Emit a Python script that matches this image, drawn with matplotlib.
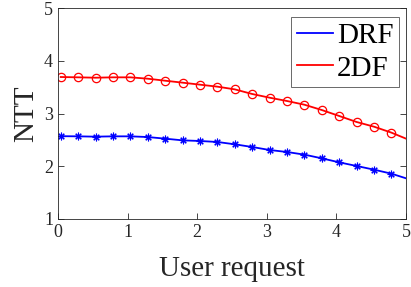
import matplotlib
matplotlib.use("Agg")
import matplotlib.pyplot as plt
import numpy as np

# values, markers every 0.25 starting at 0.04, line goes on to 5
x = [0.04, 0.29, 0.54, 0.79, 1.04, 1.29, 1.54, 1.79, 2.04, 2.29,
     2.54, 2.79, 3.04, 3.29, 3.54, 3.79, 4.04, 4.29, 4.54, 4.79, 5.0]
drf = [2.57, 2.567, 2.561, 2.567, 2.567, 2.554, 2.523, 2.491, 2.479, 2.46,
       2.416, 2.365, 2.308, 2.27, 2.22, 2.15, 2.074, 2.005, 1.935, 1.859, 1.771]
twodf = [3.692, 3.686, 3.679, 3.686, 3.686, 3.66, 3.622, 3.585, 3.547, 3.509,
         3.458, 3.37, 3.30, 3.237, 3.167, 3.066, 2.953, 2.839, 2.75, 2.637, 2.523]
n_marked = 20

plt.rcParams['font.family'] = ['Liberation Serif', 'DejaVu Serif']

fig = plt.figure(figsize=(4.11, 2.87), dpi=100)
ax = fig.add_axes([0.141, 0.237, 0.847, 0.735])

ax.plot(x, drf, color='#0000ff', lw=1.3, label='DRF')
ax.plot(x[:n_marked], drf[:n_marked], ls='none', marker=(8, 2, 0), ms=5.5,
        mec='#0000ff', mew=0.8)
ax.plot(x, twodf, color='#ff0000', lw=1.3, label='2DF')
ax.plot(x[:n_marked], twodf[:n_marked], ls='none', marker='o', ms=6,
        mfc='none', mec='#ff0000', mew=0.9)

ax.set_xlim(0, 5)
ax.set_ylim(1, 5)
ax.set_xticks(np.arange(0, 6, 1))
ax.set_yticks(np.arange(1, 6, 1))
ax.tick_params(direction='in', top=False, right=True, labelsize=13,
               colors='#262626', length=4, width=0.6)
for s in ax.spines.values():
    s.set_color('#262626')
    s.set_linewidth(0.6)

ax.set_xlabel('User request', fontsize=21, color='#262626')
ax.set_ylabel('NTT', fontsize=21, color='#262626')
ax.xaxis.set_label_coords(0.5, -0.175)
ax.yaxis.set_label_coords(-0.055, 0.5)

leg = ax.legend(loc='upper right', bbox_to_anchor=(0.98, 0.957), fontsize=21,
                frameon=True, fancybox=False, edgecolor='#262626',
                handlelength=1.25, handletextpad=0.12, borderpad=0.2,
                labelspacing=0.2, borderaxespad=0)
leg.get_frame().set_linewidth(0.6)

fig.savefig('out.png', dpi=100)
